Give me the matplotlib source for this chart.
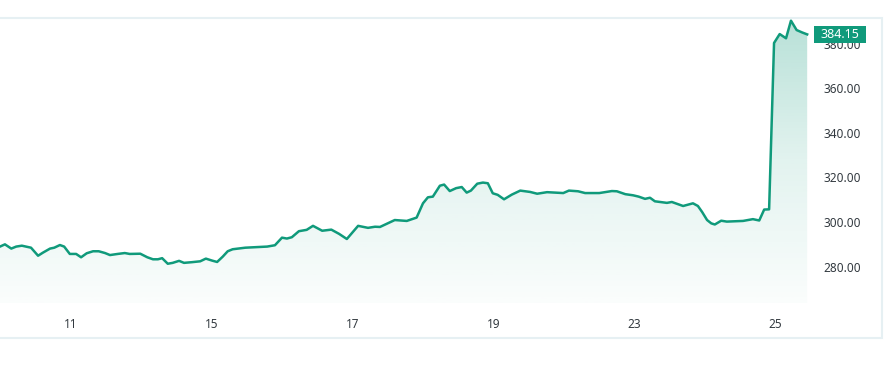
import numpy as np
import matplotlib
matplotlib.use("Agg")
import matplotlib.pyplot as plt
from matplotlib.colors import LinearSegmentedColormap
from matplotlib.patches import Rectangle
from matplotlib.transforms import blended_transform_factory

plt.rcParams["font.family"] = ["Noto Sans", "DejaVu Sans"]

# time in trading-day units (0 = start of the 10th, weekends collapsed)
t = [0.00, 0.07, 0.16, 0.23, 0.31, 0.44, 0.54, 0.61, 0.71, 0.77, 0.85, 0.91,
     0.99, 1.08, 1.15, 1.23, 1.32, 1.40, 1.49, 1.56, 1.67, 1.77, 1.84, 1.99,
     2.09, 2.17, 2.24, 2.30, 2.38, 2.45, 2.54, 2.61, 2.72, 2.84, 2.92, 3.01,
     3.08, 3.16, 3.23, 3.30, 3.48, 3.79, 3.90, 4.00, 4.07, 4.14, 4.24, 4.35,
     4.44, 4.57, 4.70, 4.81, 4.92, 5.08, 5.22, 5.32, 5.39, 5.60, 5.77, 5.91,
     6.00, 6.07, 6.14, 6.24, 6.30, 6.38, 6.47, 6.55, 6.62, 6.68, 6.77, 6.85,
     6.92, 6.99, 7.06, 7.15, 7.26, 7.38, 7.52, 7.62, 7.76, 7.99, 8.07, 8.20,
     8.30, 8.50, 8.68, 8.75, 8.87, 8.98, 9.06, 9.15, 9.22, 9.29, 9.46, 9.53,
     9.69, 9.83, 9.90, 9.96, 10.03, 10.09, 10.14, 10.23, 10.31, 10.54, 10.68,
     10.77, 10.84, 10.91, 10.98, 11.06, 11.15, 11.22, 11.30, 11.38, 11.45]
price = [289.0, 290.0, 288.1, 289.0, 289.4, 288.5, 284.9, 286.3, 288.1, 288.5, 289.7, 289.0,
         285.7, 285.7, 284.2, 286.0, 286.9, 286.9, 286.1, 285.2, 285.7, 286.1, 285.7, 285.8,
         284.2, 283.3, 283.3, 283.8, 281.3, 281.7, 282.6, 281.7, 282.0, 282.4, 283.6, 282.7,
         282.1, 284.5, 286.9, 287.8, 288.5, 289.0, 289.6, 293.0, 292.6, 293.2, 295.9, 296.5,
         298.3, 296.1, 296.6, 294.7, 292.4, 298.3, 297.4, 297.9, 297.8, 300.9, 300.5, 302.0,
         308.4, 311.1, 311.4, 316.3, 316.8, 313.9, 315.2, 315.7, 313.2, 314.1, 317.2, 317.7,
         317.4, 312.9, 312.2, 310.2, 312.3, 314.1, 313.5, 312.7, 313.4, 313.0, 314.1, 313.8,
         313.0, 313.0, 313.9, 313.8, 312.5, 312.0, 311.4, 310.4, 310.9, 309.3, 308.6, 309.0,
         307.2, 308.4, 307.2, 304.5, 300.9, 299.4, 298.9, 300.6, 300.2, 300.5, 301.3,
         300.7, 305.6, 305.7, 380.3, 384.3, 382.4, 390.3, 386.1, 385.0, 384.15]

tick_pos = [1, 3, 5, 7, 9, 11]
tick_labels = ["11", "15", "17", "19", "23", "25"]
y_ticks = [280, 300, 320, 340, 360, 380]

green = "#109a7b"
fs = 8.5

fig = plt.figure(figsize=(8.92, 3.72), dpi=100)
ax = fig.add_axes([0, 69 / 372, 810 / 892, 285 / 372])

xmax = 11.49
ylo, yhi = 263.7, 391.5
ax.set_xlim(0, xmax)
ax.set_ylim(ylo, yhi)

# gradient fill under the line
poly = ax.fill_between(t, price, ylo, color="none", lw=0)
cmap = LinearSegmentedColormap.from_list(
    "fade", [(0.06, 0.6, 0.48, 0.02), (0.06, 0.6, 0.48, 0.12),
             (0.06, 0.6, 0.48, 0.3)])
grad = np.linspace(0, 1, 256).reshape(-1, 1)
img = ax.imshow(grad, cmap=cmap, aspect="auto", origin="lower",
                extent=[0, xmax, ylo, yhi], zorder=1)
img.set_clip_path(poly.get_paths()[0], transform=ax.transData)

ax.plot(t, price, color=green, lw=1.8, zorder=3, solid_joinstyle="round")

for s in ax.spines.values():
    s.set_visible(False)
ax.set_xticks(tick_pos)
ax.set_xticklabels(tick_labels)
ax.set_yticks(y_ticks)
ax.set_yticklabels([f"{v:.2f}" for v in y_ticks])
ax.yaxis.tick_right()
ax.tick_params(axis="both", length=0, labelsize=fs, colors="#333a40")
ax.tick_params(axis="x", pad=10.8)
ax.tick_params(axis="y", pad=9.4)

# last price tag
tr = blended_transform_factory(ax.transAxes, ax.transData)
tag_h = 7.5
ax.add_patch(Rectangle((814 / 810, price[-1] - tag_h / 2), 52 / 810, tag_h,
                       transform=tr, fc=green, ec="none", clip_on=False,
                       zorder=5))
ax.text(840 / 810, price[-1], f"{price[-1]:.2f}", transform=tr,
        ha="center", va="center", color="white", fontsize=9, zorder=6)

# outer frame
fig.add_artist(Rectangle((-0.01, 34 / 372), 882 / 892 + 0.01, 320 / 372,
                         transform=fig.transFigure, fill=False,
                         ec="#e6f0f3", lw=1.5))

fig.savefig("out.png", dpi=100)
